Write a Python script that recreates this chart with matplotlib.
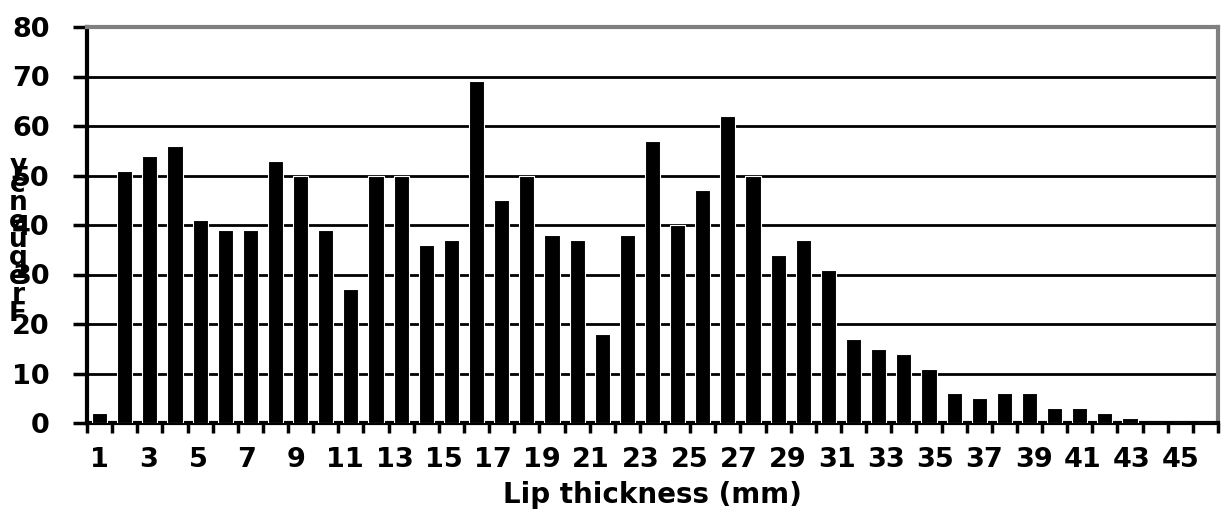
import numpy as np
import matplotlib.pyplot as plt
from matplotlib.ticker import FixedLocator

thickness = list(range(1, 46))
counts = [2, 51, 54, 56, 41, 39, 39, 53, 50, 39,
          27, 50, 50, 36, 37, 69, 45, 50, 38, 37,
          18, 38, 57, 40, 47, 62, 50, 34, 37, 31,
          17, 15, 14, 11, 6, 5, 6, 6, 3, 3,
          2, 1, 0, 0, 0]
yticks = [0, 10, 20, 30, 40, 50, 60, 70, 80]

plt.rcParams['font.family'] = 'DejaVu Sans'
plt.rcParams['font.weight'] = 'bold'

fig = plt.figure(figsize=(12.21, 5.15), dpi=100)
ax = fig.add_axes([87 / 1221, 92 / 515, 1131 / 1221, 396 / 515])

ax.bar(thickness, counts, width=0.6, color='black', edgecolor='white', linewidth=0.8, zorder=3)

ax.set_xlim(0.5, 45.5)
ax.set_ylim(0, 80)
ax.set_yticks(yticks)
ax.set_yticklabels([str(t) for t in yticks], fontsize=19.5, fontweight='bold')
ax.yaxis.grid(True, color='black', linewidth=2, zorder=1)

# the labels in the original drift slightly left of the bar centres
odd = thickness[::2]
label_pos = [1 + (t - 1) * 0.978 for t in odd]
ax.set_xticks(label_pos)
ax.set_xticklabels([str(t) for t in odd], fontsize=19.5, fontweight='bold')
ax.xaxis.set_minor_locator(FixedLocator(np.arange(0.5, 46, 1)))
ax.tick_params(axis='x', which='major', length=0, pad=17)
ax.tick_params(axis='x', which='minor', length=7, width=2.5, direction='out')
ax.tick_params(axis='y', length=10, width=2.5, direction='out', pad=17)

for s in ['left', 'bottom']:
    ax.spines[s].set_linewidth(3)
    ax.spines[s].set_color('black')
for s in ['top', 'right']:
    ax.spines[s].set_linewidth(3)
    ax.spines[s].set_color('#808080')

ax.set_xlabel('Lip thickness (mm)', fontsize=20, fontweight='bold', labelpad=6)

fig.text(18 / 1221, 1 - 240 / 515, '\n'.join(reversed('Frequency')),
         ha='center', va='center', fontsize=19, fontweight='bold', linespacing=0.62)

plt.savefig('out.png', dpi=100)
